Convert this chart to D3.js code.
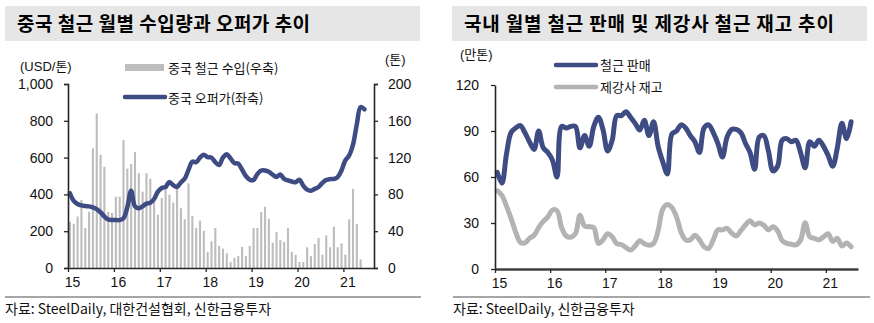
<!DOCTYPE html>
<html><head><meta charset="utf-8">
<script src="https://cdn.jsdelivr.net/npm/d3@7"></script>
<style>
body{margin:0;background:#fff}
svg text{font-family:"Liberation Sans","Noto Sans CJK KR",sans-serif;fill:#111}
.kr{font-family:"Noto Sans CJK KR",sans-serif}
</style></head>
<body><svg id="c" width="874" height="323"></svg>
<script>
// ---------- data ----------
const yearLabels = ["15","16","17","18","19","20","21"];
// China rebar imports (tons, right axis), Jan-2015 .. May-2021
const chinaImports = [50,48,56,74,43.5,61,130,168,123,110,61,60,
  77.5,77.5,139,108,113,126,103,83,103,97,79,58,
  76,85,79.5,71,92,65,53,92,56.5,43.5,51.5,40.5,
  17.4,29,43.5,24,21,16,6.5,11,13,23,13,24,
  43.5,43.5,61,66.5,53.5,27.5,39,30.4,28.3,43.5,17.4,14.5,
  6.5,6.5,22.5,13,26,32.6,14.5,35.5,22.5,45,22.5,26.8,
  14.5,53,86,47.8,9.4];
// China offer price (USD/ton, left axis), Jan-2015 .. Jun-2021
const chinaOffer = [406,365,348,340,337,335,330,320,303,280,264,261,
  261,260,270,330,420,335,325,335,350,355,375,415,
  435,440,468,450,440,465,485,533,578,575,600,615,
  603,600,575,560,600,618,595,570,567,535,500,480,
  478,510,530,530,523,508,495,508,484,476,470,466,
  480,448,426,420,430,440,462,478,483,484,494,530,
  585,612,670,780,875,862];
// Korea rebar sales (10k tons), Jan-2015 .. Jun-2021
const rebarSales = [63,56,75,89,92,93.5,89,83,78,90,79,76,
  71,60,93,92,93,93,79,87,80,93,99,91,
  77,84,100,100,102.6,99,95,90.6,97,87,96,80,
  70,62,88,90,94,92,87,83,76,92,94,89,
  82,73,86,91,91,89,82,76,65,86,87,77,
  64,67,84,85,83,84,76,66,83,80,84,80,
  74,67,79,95,85,96];
// Steelmaker rebar inventory (10k tons)
const rebarStock = [51,48,41,33,24,17.5,17,20,22,27,31,34,
  38.5,38,27,21.5,20.7,23,35,28,27.6,27,16.7,18.9,
  23,21,16.5,16,14,12.4,15,18.5,16.5,15.5,16.7,25,
  39,42,40,34,24,19,19,22,19,14.5,13.5,19,
  25.5,25.5,26.5,23.5,21.5,25,28.7,31.5,28.7,30,28.5,25.5,
  27.5,25,18.5,16.7,16.2,15.7,18.9,30.2,21,20,19,21,
  23,18,20,15,17,14.5];
const leftPriceTicks = [0,200,400,600,800,1000];
const leftTonTicks = [0,40,80,120,160,200];
const rightTicks = [0,30,60,90,120];

const NAVY = "#3f4c84", BAR = "#bdbdbd", GLINE = "#b3b3b3", AXIS = "#262626";
const svg = d3.select("#c");

// ---------- title boxes / frame ----------
function titleBox(x, w, text, targetW){
  svg.append("rect").attr("x",x).attr("y",6).attr("width",w).attr("height",35).attr("fill","#e6e6e6");
  const t = svg.append("text").attr("class","kr").attr("x",x+12).attr("y",31)
    .attr("font-size",19).attr("font-weight","bold").style("fill","#000").text(text);
  const n = text.length;
  const cur = t.node().getComputedTextLength();
  t.attr("letter-spacing", ((targetW - cur)/(n-1)).toFixed(2));
}
titleBox(5, 415, "중국 철근 월별 수입량과 오퍼가 추이", 293);
titleBox(452, 415, "국내 월별 철근 판매 및 제강사 철근 재고 추이", 370);
svg.append("line").attr("x1",5).attr("x2",421).attr("y1",297).attr("y2",297).attr("stroke","#a6a6a6").attr("stroke-width",2);
svg.append("line").attr("x1",453).attr("x2",870).attr("y1",297).attr("y2",297).attr("stroke","#a6a6a6").attr("stroke-width",2);
svg.append("text").attr("class","kr").attr("x",5).attr("y",314).attr("font-size",14).text("자료: SteelDaily, 대한건설협회, 신한금융투자");
svg.append("text").attr("class","kr").attr("x",453).attr("y",314).attr("font-size",14).text("자료: SteelDaily, 신한금융투자");

function styleAxis(g){
  g.select(".domain").attr("stroke",AXIS).attr("stroke-width",1.6);
  g.selectAll(".tick line").attr("stroke",AXIS).attr("stroke-width",1.3);
  g.selectAll(".tick text").attr("font-size",14).style("fill","#111").attr("font-family","Liberation Sans");
}

// ---------- LEFT chart ----------
const L = {x0:68, x1:374, y0:268, y1:84};
const xL = d3.scaleLinear().domain([0,80]).range([L.x0,L.x1]);
const yL = d3.scaleLinear().domain([0,1000]).range([L.y0,L.y1]);
const yLr = d3.scaleLinear().domain([0,200]).range([L.y0,L.y1]);

svg.append("g").selectAll("rect").data(chinaImports).join("rect")
  .attr("x",(d,i)=>xL(i+0.5)-1).attr("width",2.1)
  .attr("y",d=>yLr(d)).attr("height",d=>L.y0-yLr(d)).attr("fill",BAR);

svg.append("path").datum(chinaOffer)
  .attr("d", d3.line().x((d,i)=>xL(i+0.5)).y(d=>yL(d)).curve(d3.curveCatmullRom.alpha(0.5)))
  .attr("fill","none").attr("stroke",NAVY).attr("stroke-width",4.5)
  .attr("stroke-linejoin","round").attr("stroke-linecap","round");

const gLy = svg.append("g").attr("transform",`translate(${L.x0},0)`)
  .call(d3.axisLeft(yL).tickValues(leftPriceTicks).tickFormat(d3.format(",")).tickSize(4).tickPadding(11));
styleAxis(gLy);
const gLr = svg.append("g").attr("transform",`translate(${L.x1},0)`)
  .call(d3.axisRight(yLr).tickValues(leftTonTicks).tickSize(4).tickPadding(10));
styleAxis(gLr);
const gLx = svg.append("g").attr("transform",`translate(0,${L.y0})`)
  .call(d3.axisBottom(xL).tickValues([0,12,24,36,48,60,72]).tickFormat((d,i)=>yearLabels[i]).tickSize(4).tickPadding(5).tickSizeOuter(0));
styleAxis(gLx);
gLx.selectAll(".tick text").attr("dx",4);

svg.append("text").attr("x",20).attr("y",71).attr("font-size",13).text("(USD/톤)");
svg.append("text").attr("x",385).attr("y",64).attr("font-size",13).text("(톤)");
svg.append("rect").attr("x",125).attr("y",64).attr("width",39).attr("height",7).attr("fill",BAR);
svg.append("text").attr("class","kr").attr("x",168).attr("y",73).attr("font-size",13).text("중국 철근 수입(우축)");
svg.append("line").attr("x1",125).attr("x2",165).attr("y1",97).attr("y2",97).attr("stroke",NAVY).attr("stroke-width",4.5).attr("stroke-linecap","round");
svg.append("text").attr("class","kr").attr("x",168).attr("y",103).attr("font-size",13).text("중국 오퍼가(좌축)");

// ---------- RIGHT chart ----------
const R = {x0:495, x1:858, y0:269, y1:85};
const xR = d3.scaleLinear().domain([0,79]).range([R.x0,R.x1]);
const yR = d3.scaleLinear().domain([0,120]).range([R.y0,R.y1]);
const lineR = d3.line().x((d,i)=>xR(i+0.5)).y(d=>yR(d)).curve(d3.curveCatmullRom.alpha(0.5));
svg.append("path").datum(rebarStock).attr("d",lineR).attr("fill","none").attr("stroke",GLINE)
  .attr("stroke-width",5).attr("stroke-linejoin","round").attr("stroke-linecap","round");
svg.append("path").datum(rebarSales).attr("d",lineR).attr("fill","none").attr("stroke",NAVY)
  .attr("stroke-width",5).attr("stroke-linejoin","round").attr("stroke-linecap","round");

const gRy = svg.append("g").attr("transform",`translate(${R.x0},0)`)
  .call(d3.axisLeft(yR).tickValues(rightTicks).tickSize(4).tickPadding(12).tickSizeOuter(0));
styleAxis(gRy);
const gRx = svg.append("g").attr("transform",`translate(0,${R.y0})`)
  .call(d3.axisBottom(xR).tickValues([0,12,24,36,48,60,72]).tickFormat((d,i)=>yearLabels[i]).tickSize(4).tickPadding(5).tickSizeOuter(0));
styleAxis(gRx);
gRx.select(".domain").attr("stroke","#404040").attr("stroke-width",2.5);
gRx.selectAll(".tick text").attr("dx",4);

svg.append("text").attr("x",460).attr("y",59).attr("font-size",13).text("(만톤)");
svg.append("line").attr("x1",556).attr("x2",596).attr("y1",65).attr("y2",65).attr("stroke",NAVY).attr("stroke-width",4.5).attr("stroke-linecap","round");
svg.append("text").attr("class","kr").attr("x",600).attr("y",70).attr("font-size",13).text("철근 판매");
svg.append("line").attr("x1",556).attr("x2",596).attr("y1",87).attr("y2",87).attr("stroke",GLINE).attr("stroke-width",4.5).attr("stroke-linecap","round");
svg.append("text").attr("class","kr").attr("x",600).attr("y",92).attr("font-size",13).text("제강사 재고");
</script></body></html>
